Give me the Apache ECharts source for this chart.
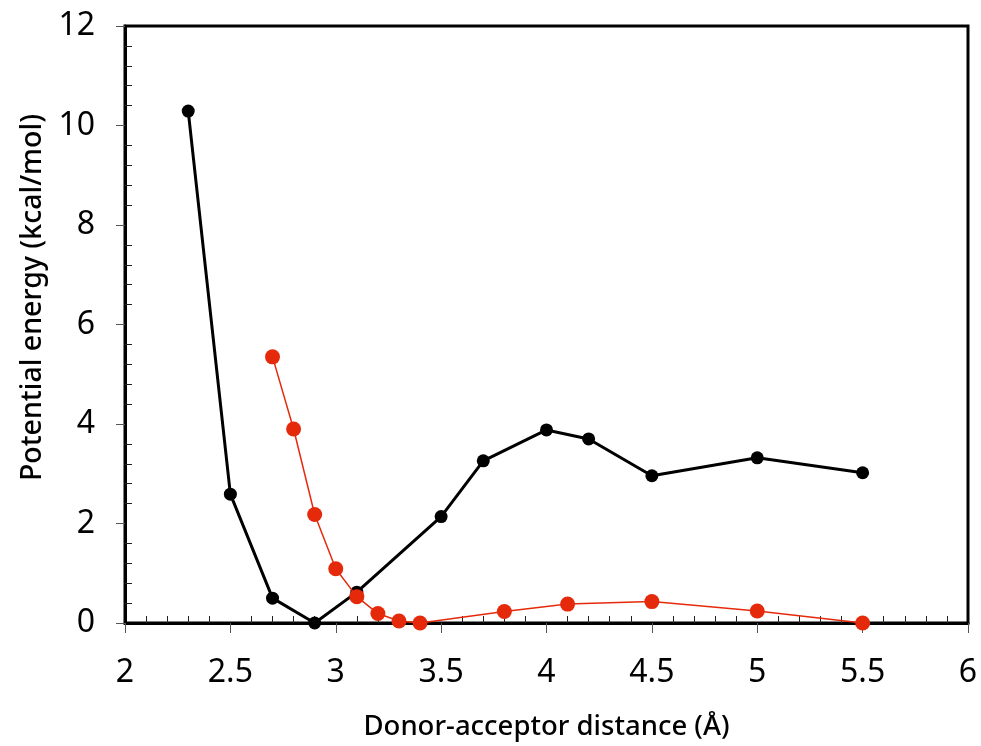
<!DOCTYPE html>
<html>
<head>
<meta charset="utf-8">
<script src="https://cdn.jsdelivr.net/npm/echarts@6/dist/echarts.min.js"></script>
<style>html,body{margin:0;padding:0;background:#fff;}#c{width:981px;height:746px;}</style>
</head>
<body>
<div id="c"></div>
<script>
const blackX = [2.3, 2.5, 2.7, 2.9, 3.1, 3.5, 3.7, 4.0, 4.2, 4.5, 5.0, 5.5];
const blackY = [10.29, 2.59, 0.50, 0.0, 0.62, 2.14, 3.26, 3.88, 3.70, 2.96, 3.32, 3.02];
const redX = [2.7, 2.8, 2.9, 3.0, 3.1, 3.2, 3.3, 3.4, 3.8, 4.1, 4.5, 5.0, 5.5];
const redY = [5.35, 3.90, 2.18, 1.09, 0.53, 0.19, 0.04, 0.0, 0.23, 0.38, 0.43, 0.24, 0.0];
const xTitle = 'Donor-acceptor distance (Å)';
const yTitle = 'Potential energy (kcal/mol)';

const pair = (xs, ys) => xs.map((x, i) => [x, ys[i]]);
const font = 'Noto Sans';
const chart = echarts.init(document.getElementById('c'));
chart.setOption({
  animation: false,
  backgroundColor: '#fff',
  grid: { left: 125, right: 13, top: 26, bottom: 123, show: true, borderColor: '#000', borderWidth: 3 },
  xAxis: {
    type: 'value', min: 2, max: 6, interval: 0.5,
    name: xTitle, nameLocation: 'middle', nameGap: 90,
    nameTextStyle: { fontFamily: font, fontSize: 27.5, fontWeight: 500, color: '#000' },
    axisLine: { lineStyle: { color: '#000', width: 3 } },
    axisTick: { inside: false, length: 10, lineStyle: { color: '#555', width: 1 } },
    minorTick: { show: true, splitNumber: 5, length: -7, lineStyle: { color: '#222', width: 1 } },
    splitLine: { show: false },
    axisLabel: { fontFamily: font, fontSize: 32, color: '#000', margin: 34,
      formatter: v => String(Math.round(v * 10) / 10) }
  },
  yAxis: {
    type: 'value', min: 0, max: 12, interval: 2,
    name: yTitle, nameLocation: 'middle', nameGap: 69,
    nameTextStyle: { fontFamily: font, fontSize: 28.5, fontWeight: 500, color: '#000', padding: [0, 0, 0, 54] },
    axisLine: { lineStyle: { color: '#000', width: 3 } },
    axisTick: { inside: false, length: 9, lineStyle: { color: '#555', width: 1 } },
    minorTick: { show: true, splitNumber: 5, length: -7, lineStyle: { color: '#222', width: 1 } },
    splitLine: { show: false },
    axisLabel: { fontFamily: font, fontSize: 32, color: '#000', margin: 30 }
  },
  series: [
    {
      type: 'line', data: pair(redX, redY), symbol: 'circle', symbolSize: 15,
      itemStyle: { color: '#e52a0c' }, lineStyle: { color: '#e52a0c', width: 1.5 }, z: 3
    },
    {
      type: 'line', data: pair(blackX, blackY), symbol: 'circle', symbolSize: 13,
      itemStyle: { color: '#000' }, lineStyle: { color: '#000', width: 3 }, z: 2
    }
  ]
});
</script>
</body>
</html>
